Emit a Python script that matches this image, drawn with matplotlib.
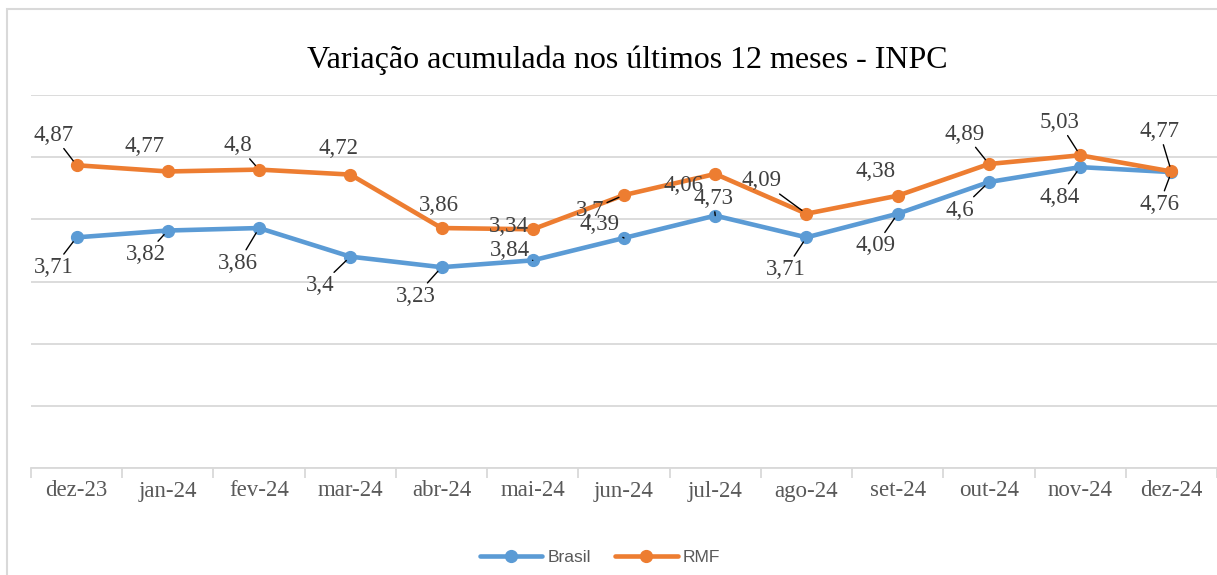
import matplotlib
matplotlib.use("Agg")
import matplotlib.pyplot as plt
from matplotlib.patches import Rectangle

meses = ['dez-23', 'jan-24', 'fev-24', 'mar-24', 'abr-24', 'mai-24', 'jun-24',
         'jul-24', 'ago-24', 'set-24', 'out-24', 'nov-24', 'dez-24']

# valores como aparecem desenhados no grafico
brasil = [3.71, 3.82, 3.86, 3.40, 3.23, 3.34, 3.70, 4.06, 3.71, 4.09, 4.60, 4.84, 4.76]
rmf = [4.87, 4.77, 4.80, 4.72, 3.86, 3.84, 4.39, 4.73, 4.09, 4.38, 4.89, 5.03, 4.77]

# rotulos como aparecem escritos (alguns trocados no original)
brasil_rot = ['3,71', '3,82', '3,86', '3,4', '3,23', '3,84', '4,39', '4,73',
              '3,71', '4,09', '4,6', '4,84', '4,76']
rmf_rot = ['4,87', '4,77', '4,8', '4,72', '3,86', '3,34', '3,7', '4,06',
           '4,09', '4,38', '4,89', '5,03', '4,77']

# posicao dos rotulos (pixels) e linhas de chamada
brasil_off = [(-23, -30), (-22, -24), (-21, -35), (-30, -29), (-26, -29),
              (-23, 10), (-24, 13), (-2, 17), (-21, -32), (-22, -32),
              (-29, -28), (-21, -30), (-12, -32)]
rmf_off = [(-23, 30), (-23, 25), (-21, 24), (-12, 26), (-3, 23), (-24, 3),
           (-34, -15), (-32, -12), (-45, 33), (-22, 24), (-24, 30),
           (-21, 33), (-12, 40)]
brasil_leader = [1, 1, 1, 1, 1, 1, 1, 1, 1, 1, 1, 1, 1]
rmf_leader = [1, 0, 1, 0, 0, 0, 1, 0, 1, 0, 1, 1, 1]

azul = '#5B9BD5'
laranja = '#ED7D31'
cinza = '#D9D9D9'

W, H = 1217, 575
fig = plt.figure(figsize=(W / 100, H / 100), dpi=100)
ax = fig.add_axes([31 / W, (H - 468) / H, 1 - 31 / W, (468 - 95) / H])

x = list(range(len(meses)))
ax.plot(x, brasil, color=azul, lw=3.3, marker='o', ms=8.5, label='Brasil',
        zorder=3, solid_capstyle='round')
ax.plot(x, rmf, color=laranja, lw=3.3, marker='o', ms=8.5, label='RMF',
        zorder=3, solid_capstyle='round')

serif = 'Liberation Serif'
for vals, rots, offs, leads in [(brasil, brasil_rot, brasil_off, brasil_leader),
                                (rmf, rmf_rot, rmf_off, rmf_leader)]:
    for i, (v, t, (dx, dy), ld) in enumerate(zip(vals, rots, offs, leads)):
        props = None
        if ld:
            props = dict(arrowstyle='-', color='black', lw=1.0,
                         shrinkA=0, shrinkB=4)
        ax.annotate(t, xy=(i, v), xytext=(dx, dy), textcoords='offset pixels',
                    ha='center', va='center', fontsize=16.5, family=serif,
                    color='#404040', arrowprops=props, zorder=5)

ax.set_xlim(-0.5, 12.5)
ax.set_ylim(0, 6)
ax.set_yticks([0, 1, 2, 3, 4, 5, 6])
ax.yaxis.grid(True, color=cinza, lw=1.3)
ax.set_axisbelow(True)
ax.tick_params(axis='y', left=False, labelleft=False)
for s in ['left', 'right', 'top']:
    ax.spines[s].set_visible(False)
ax.spines['bottom'].set_color(cinza)
ax.spines['bottom'].set_linewidth(1.3)

ax.set_xticks(x)
ax.set_xticklabels(meses, family=serif, fontsize=16.5, color='#595959')
ax.tick_params(axis='x', length=0, pad=9)
ax.set_xticks([i - 0.5 for i in range(len(meses) + 1)], minor=True)
ax.tick_params(axis='x', which='minor', length=7, width=1.3, color=cinza,
               direction='out')

fig.text(627 / W, 1 - 60 / H, 'Variação acumulada nos últimos 12 meses - INPC',
         ha='center', va='center', family=serif, fontsize=23, color='black')

leg = fig.legend(loc='center', bbox_to_anchor=(600 / W, 1 - 557 / H),
                 ncol=2, frameon=False, handlelength=3.6, columnspacing=1.4,
                 handletextpad=0.3,
                 prop={'family': 'Liberation Sans', 'size': 12.5})
for t in leg.get_texts():
    t.set_color('#595959')

fig.patches.append(Rectangle((7 / W, -0.1), 1.2, 1 - 9 / H + 0.1,
                             transform=fig.transFigure, fill=False,
                             edgecolor=cinza, lw=1.5))

fig.savefig('out.png', dpi=100)
